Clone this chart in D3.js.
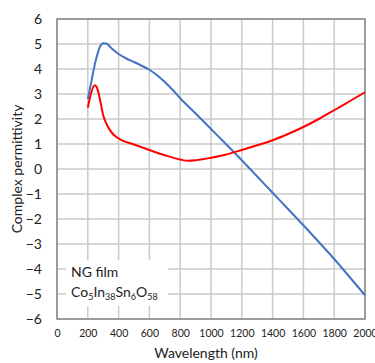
<!DOCTYPE html>
<html>
<head>
<meta charset="utf-8">
<script src="https://cdn.jsdelivr.net/npm/d3@7"></script>
<style>
  body { margin: 0; background: #fff; }
  svg { font-family: Lato, "Open Sans", sans-serif; }
</style>
</head>
<body>
<svg id="chart" width="375" height="363"></svg>
<script>
// values
const blueWl = [200, 220, 250, 280, 300, 320, 350, 400, 450, 500, 550, 600, 650, 700, 750, 800, 900, 1000, 1100, 1200, 1300, 1400, 1500, 1600, 1700, 1800, 1900, 2000];
const blueEps = [2.8, 3.4, 4.3, 4.9, 5.03, 5.02, 4.85, 4.6, 4.42, 4.28, 4.13, 3.97, 3.75, 3.48, 3.17, 2.83, 2.22, 1.6, 0.98, 0.35, -0.3, -0.95, -1.6, -2.25, -2.92, -3.6, -4.32, -5.05];

const redWl = [200, 220, 245, 260, 280, 300, 330, 360, 400, 500, 600, 700, 800, 850, 900, 1000, 1100, 1200, 1300, 1400, 1500, 1600, 1700, 1800, 1900, 2000];
const redEps = [2.45, 3.0, 3.35, 3.25, 2.75, 2.15, 1.7, 1.42, 1.22, 0.98, 0.76, 0.55, 0.38, 0.33, 0.35, 0.45, 0.58, 0.76, 0.95, 1.15, 1.4, 1.68, 2.0, 2.35, 2.71, 3.07];

const xTicks = [0, 200, 400, 600, 800, 1000, 1200, 1400, 1600, 1800, 2000];
const yTicks = [-6, -5, -4, -3, -2, -1, 0, 1, 2, 3, 4, 5, 6];

const margin = { top: 19, right: 10, bottom: 44, left: 57 };
const width = 375 - margin.left - margin.right;
const height = 363 - margin.top - margin.bottom;

const svg = d3.select("#chart");
const g = svg.append("g").attr("transform", `translate(${margin.left},${margin.top})`);

const x = d3.scaleLinear().domain([0, 2000]).range([0, width]);
const y = d3.scaleLinear().domain([-6, 6]).range([height, 0]);

// grid
g.append("g").selectAll("line").data(xTicks).join("line")
  .attr("x1", d => x(d)).attr("x2", d => x(d))
  .attr("y1", 0).attr("y2", height)
  .attr("stroke", "#cacaca").attr("stroke-width", 1.5);
g.append("g").selectAll("line").data(yTicks).join("line")
  .attr("x1", 0).attr("x2", width)
  .attr("y1", d => y(d)).attr("y2", d => y(d))
  .attr("stroke", "#cacaca").attr("stroke-width", 1.5);

// frame
g.append("rect").attr("width", width).attr("height", height)
  .attr("fill", "none").attr("stroke", "#888").attr("stroke-width", 1.5);

// axes labels
const xAxis = g.append("g").attr("transform", `translate(0,${height})`)
  .call(d3.axisBottom(x).tickValues(xTicks).tickFormat(d3.format("d")).tickSize(0).tickPadding(11));
xAxis.select(".domain").remove();
xAxis.selectAll("text").attr("font-size", 10.5).attr("fill", "#222").attr("font-family", "Lato, sans-serif");

const yAxis = g.append("g")
  .call(d3.axisLeft(y).tickValues(yTicks).tickSize(0).tickPadding(15));
yAxis.select(".domain").remove();
yAxis.selectAll("text").attr("font-size", 14).attr("fill", "#222").attr("font-family", "Lato, sans-serif");

// lines
const line = d3.line().curve(d3.curveMonotoneX);

g.append("path")
  .datum(d3.zip(blueWl, blueEps))
  .attr("d", line.x(d => x(d[0])).y(d => y(d[1])))
  .attr("fill", "none").attr("stroke", "#4472C4").attr("stroke-width", 2);

g.append("path")
  .datum(d3.zip(redWl, redEps))
  .attr("d", line.x(d => x(d[0])).y(d => y(d[1])))
  .attr("fill", "none").attr("stroke", "#FF0000").attr("stroke-width", 2);

// label box
g.append("rect").attr("x", 9).attr("y", 241).attr("width", 102).attr("height", 46).attr("fill", "#fff");
g.append("text").attr("x", 14).attr("y", 258).attr("font-size", 14).attr("fill", "#222").text("NG film");
const formula = g.append("text").attr("x", 14).attr("y", 278).attr("font-size", 14).attr("fill", "#222");
[["Co", false], ["5", true], ["In", false], ["38", true], ["Sn", false], ["6", true], ["O", false], ["58", true]]
  .forEach(([t, sub]) => {
    const ts = formula.append("tspan").text(t);
    if (sub) ts.attr("font-size", 9).attr("dy", 3);
    else ts.attr("dy", formula.selectAll("tspan").size() > 1 ? -3 : 0);
  });

// titles
svg.append("text")
  .attr("x", margin.left + width / 2 - 5).attr("y", 358)
  .attr("text-anchor", "middle").attr("font-size", 14).attr("fill", "#222")
  .text("Wavelength (nm)");
svg.append("text")
  .attr("transform", `translate(22,${margin.top + height / 2}) rotate(-90)`)
  .attr("text-anchor", "middle").attr("font-size", 14).attr("fill", "#222")
  .text("Complex permittivity");
</script>
</body>
</html>
